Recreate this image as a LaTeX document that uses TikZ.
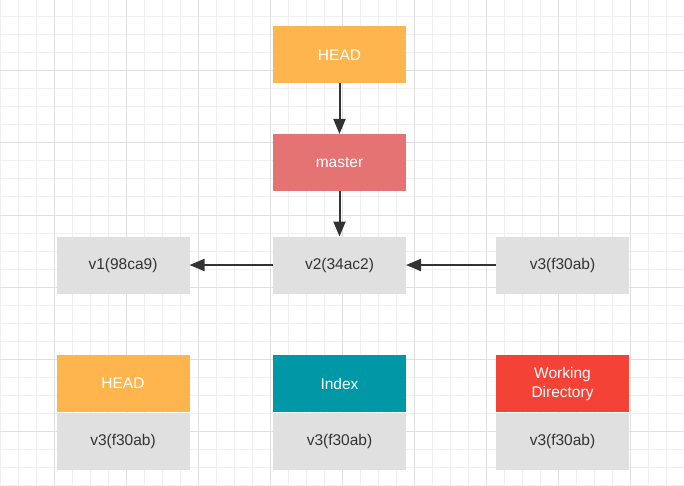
\documentclass[tikz,border=0pt]{standalone}
\usepackage{fontspec}
\setmainfont{Liberation Sans}
\usetikzlibrary{arrows.meta,positioning}
\definecolor{headorange}{RGB}{255,181,77}
\definecolor{masterred}{RGB}{229,115,115}
\definecolor{indexteal}{RGB}{0,151,167}
\definecolor{workred}{RGB}{244,67,54}
\definecolor{boxgray}{RGB}{224,224,224}
\definecolor{textgray}{RGB}{51,51,51}
\definecolor{gridminor}{RGB}{240,240,240}
\definecolor{gridmajor}{RGB}{224,224,224}
\begin{document}
\begin{tikzpicture}[x=1pt,y=-1pt,
    every node/.style={inner sep=0pt,outer sep=0pt,font=\fontsize{15.5}{19}\selectfont},
    box/.style={minimum width=133pt,minimum height=57pt,align=center},
    refbox/.style={box,fill=#1,text=white},
    commitbox/.style={box,fill=boxgray,text=textgray},
    link/.style={draw=textgray,line width=2pt,-{Triangle[length=15pt,width=12pt]}}]
    \useasboundingbox (0,0) rectangle (684,486);
    \fill [white] (0,0) rectangle (684,486);
    % background grid
    \foreach \x in {0,18,...,684}
        \draw [gridminor,line width=1pt] (\x,0) -- (\x,486);
    \foreach \y in {-1,17,...,486}
        \draw [gridminor,line width=1pt] (0,\y) -- (684,\y);
    \foreach \x in {54,126,...,684}
        \draw [gridmajor,line width=1pt] (\x,0) -- (\x,486);
    \foreach \y in {71,143,...,486}
        \draw [gridmajor,line width=1pt] (0,\y) -- (684,\y);
    % refs and commits
    \node [refbox=headorange] (head) at (339.5,55) {HEAD};
    \node [refbox=masterred] (master) at (339.5,162.5) {master};
    \node [commitbox] (v2) at (339.5,265) {v2(34ac2)};
    \node [commitbox] (v1) at (123,265) {v1(98ca9)};
    \node [commitbox] (v3) at (562.5,265) {v3(f30ab)};
    \draw [link] (head) -- (master);
    \draw [link] (master) -- (v2);
    \draw [link] (v2) -- (v1);
    \draw [link] (v3) -- (v2);
    % the three trees
    \node [refbox=headorange] (headtree) at (123,383.5) {HEAD};
    \node [commitbox,below=1pt of headtree] (headval) {v3(f30ab)};
    \node [refbox=indexteal] (index) at (339.5,383.5) {Index};
    \node [commitbox,below=1pt of index] (indexval) {v3(f30ab)};
    \node [refbox=workred] (workdir) at (562.5,383.5) {Working\\Directory};
    \node [commitbox,below=1pt of workdir] (workval) {v3(f30ab)};
\end{tikzpicture}
\end{document}
